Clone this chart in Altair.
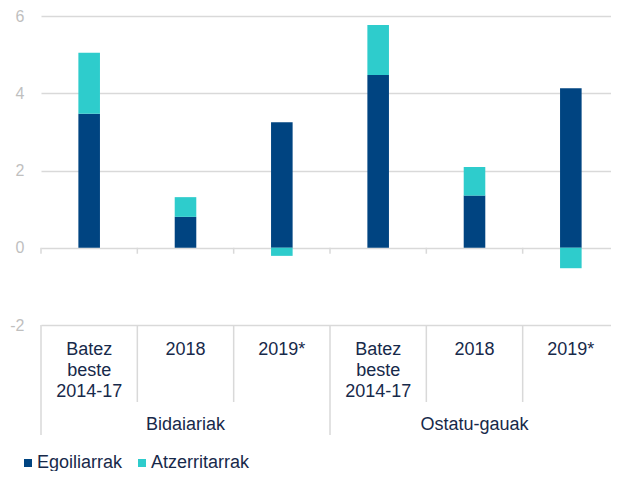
import altair as alt
import pandas as pd

# ---- data ----
groups = ["Bidaiariak", "Bidaiariak", "Bidaiariak",
          "Ostatu-gauak", "Ostatu-gauak", "Ostatu-gauak"]
periods = ["Batez beste 2014-17", "2018", "2019*",
           "Batez beste 2014-17", "2018", "2019*"]
egoiliarrak = [3.47, 0.80, 3.25, 4.47, 1.35, 4.13]
atzerritarrak = [1.58, 0.51, -0.21, 1.30, 0.74, -0.53]
series_names = ["Egoiliarrak", "Atzerritarrak"]
group_names = ["Bidaiariak", "Ostatu-gauak"]
y_ticks = [-2, 0, 2, 4, 6]

# ---- styles ----
NAVY = "#004481"
TEAL = "#2ecccc"
TEXT = "#17294a"
GRID = "#d9d9d9"
YLAB = "#bfbfbf"
FONT = "Liberation Sans"
BAR_HALF = 0.112

# ---- build tables ----
rows = []
for i, (e, a) in enumerate(zip(egoiliarrak, atzerritarrak)):
    c = i + 0.5
    rows.append({"series": "Egoiliarrak", "lo": 0.0, "hi": e,
                 "xl": c - BAR_HALF, "xr": c + BAR_HALF, "o": 0})
    if a >= 0:
        rows.append({"series": "Atzerritarrak", "lo": e, "hi": e + a,
                     "xl": c - BAR_HALF, "xr": c + BAR_HALF, "o": 1})
    else:
        rows.append({"series": "Atzerritarrak", "lo": a, "hi": 0.0,
                     "xl": c - BAR_HALF, "xr": c + BAR_HALF, "o": 1})
bars_df = pd.DataFrame(rows)

n = len(periods)
bounds_df = pd.DataFrame({"b": list(range(n + 1)), "y0": 0.0, "y1": -0.155})
inner_df = pd.DataFrame({"b": [b for b in range(1, n) if groups[b] == groups[b - 1]]})
outer_df = pd.DataFrame({"b": [b for b in range(n + 1)
                               if b == 0 or b == n or groups[b] != groups[b - 1]]})
cat_df = pd.DataFrame({"xc": [i + 0.5 for i in range(n)], "period": periods})
grp_df = pd.DataFrame({
    "group": group_names,
    "xc": [sum(i + 0.5 for i in range(n) if groups[i] == g) /
           sum(1 for i in range(n) if groups[i] == g) for g in group_names],
})

xscale = alt.Scale(domain=[0, n], nice=False, zero=False)
yscale = alt.Scale(domain=[-2, 6], nice=False)

bars = alt.Chart(bars_df).mark_bar().encode(
    x=alt.X("xl:Q", scale=xscale, axis=None),
    x2="xr:Q",
    y=alt.Y("lo:Q", scale=yscale,
            axis=alt.Axis(values=y_ticks, grid=True, gridColor=GRID, gridWidth=1.5,
                          domain=False, ticks=False, labelColor=YLAB,
                          labelFontSize=16, labelFont=FONT, labelPadding=17,
                          labelExpr="'' + datum.value", title=None)),
    y2="hi:Q",
    color=alt.Color("series:N",
                    scale=alt.Scale(domain=series_names, range=[NAVY, TEAL]),
                    legend=alt.Legend(title=None, orient="none", legendX=-22,
                                      legendY=438, direction="horizontal",
                                      symbolType="square", symbolSize=64,
                                      symbolStrokeWidth=0, labelFontSize=18,
                                      labelColor=TEXT, labelFont=FONT,
                                      columnPadding=10, labelOffset=0, padding=0)),
    order="o:Q",
)

zero_ticks = alt.Chart(bounds_df).mark_rule(color=GRID, strokeWidth=1.5).encode(
    x=alt.X("b:Q", scale=xscale, axis=None),
    y=alt.Y("y0:Q", scale=yscale),
    y2="y1:Q",
)

inner_rules = alt.Chart(inner_df).mark_rule(color=GRID, strokeWidth=1.5).encode(
    x=alt.X("b:Q", scale=xscale, axis=None),
    y=alt.value(309), y2=alt.value(386),
)
outer_rules = alt.Chart(outer_df).mark_rule(color=GRID, strokeWidth=1.5).encode(
    x=alt.X("b:Q", scale=xscale, axis=None),
    y=alt.value(309), y2=alt.value(419),
)

cat_text = alt.Chart(cat_df).mark_text(
    lineBreak=" ", lineHeight=21, fontSize=18, font=FONT, color=TEXT,
    baseline="alphabetic", align="center",
).encode(
    x=alt.X("xc:Q", scale=xscale, axis=None),
    y=alt.value(339),
    text="period:N",
)

grp_text = alt.Chart(grp_df).mark_text(
    fontSize=18, font=FONT, color=TEXT, baseline="alphabetic", align="center",
).encode(
    x=alt.X("xc:Q", scale=xscale, axis=None),
    y=alt.value(414),
    text="group:N",
)

chart = alt.layer(zero_ticks, inner_rules, outer_rules, bars, cat_text, grp_text).properties(
    width=578, height=309,
    autosize=alt.AutoSizeParams(type="none"),
    padding={"left": 33, "top": 8, "right": -8, "bottom": 146},
).configure_view(stroke=None)

chart.save("out.html", embed_options={"renderer": "svg", "actions": False})
